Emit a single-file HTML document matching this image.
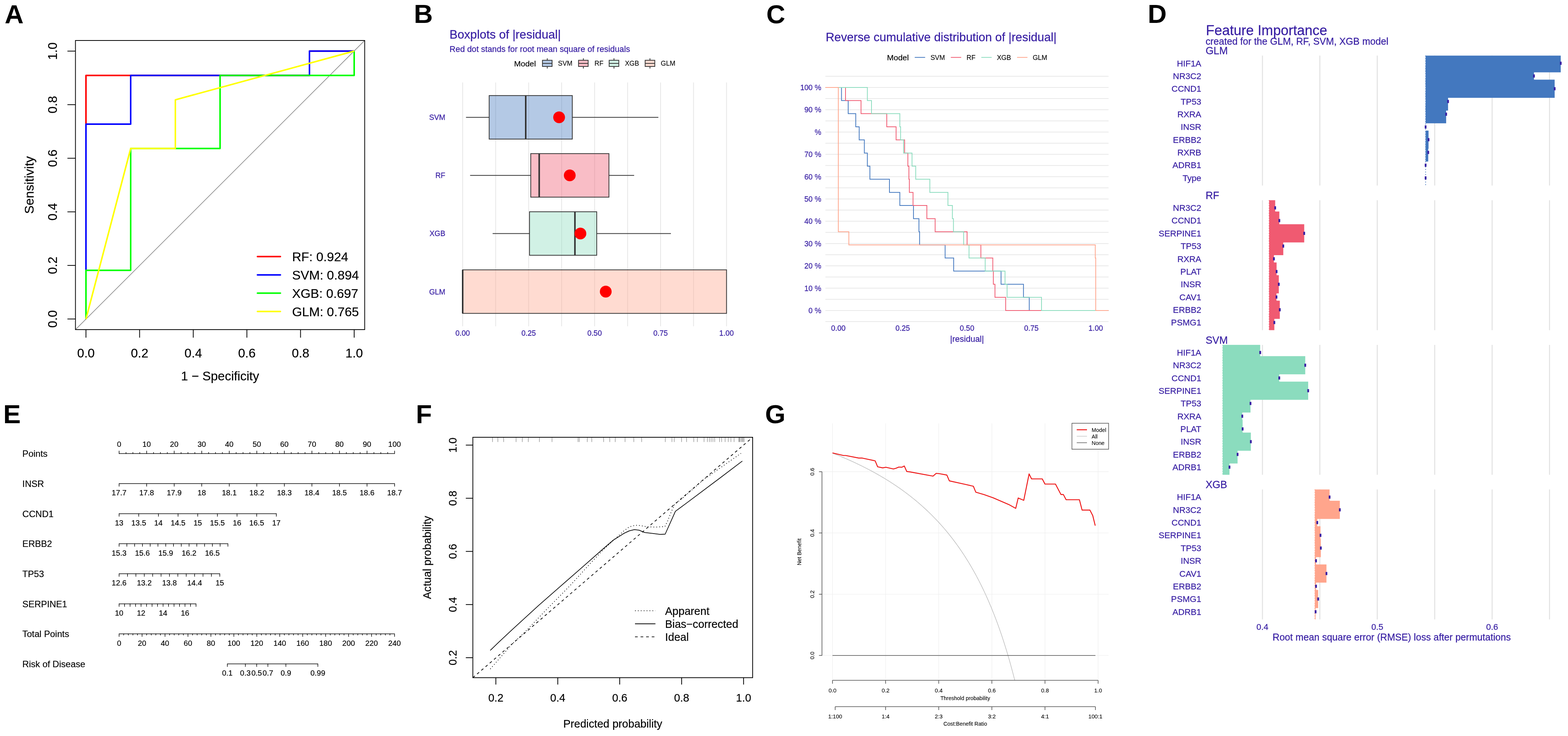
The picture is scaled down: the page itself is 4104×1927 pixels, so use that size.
<!DOCTYPE html>
<html lang="en"><head><meta charset="utf-8"><title>Figure</title>
<style>
html,body{margin:0;padding:0;background:#fff;}
body{width:4104px;height:1927px;overflow:hidden;}
svg{display:block;font-family:'Liberation Sans', sans-serif;}
text{white-space:pre;}
</style></head><body>
<svg xmlns="http://www.w3.org/2000/svg" width="4104" height="1927" viewBox="0 0 4104 1927">
<rect x="0" y="0" width="4104" height="1927" fill="#fff"/>
<g id="letters">
<text x="12.3" y="61" font-size="68.6" font-weight="bold">A</text>
<text x="1083.2" y="60.3" font-size="68.6" font-weight="bold">B</text>
<text x="2005.7" y="61.3" font-size="68.6" font-weight="bold">C</text>
<text x="3004" y="60.3" font-size="68.6" font-weight="bold">D</text>
<text x="8.6" y="1108.2" font-size="68.6" font-weight="bold">E</text>
<text x="1088.4" y="1108.2" font-size="68.6" font-weight="bold">F</text>
<text x="2002.6" y="1108.2" font-size="68.6" font-weight="bold">G</text>
</g>
<g id="panelA">
<line x1="197.5" y1="863" x2="954.5" y2="106" stroke="#909090" stroke-width="1.8"/>
<polyline points="225,835.2 225,197.56 809.98,197.56 809.98,133.8 927,133.8" fill="none" stroke="#ff0000" stroke-width="4" stroke-linejoin="round"/>
<polyline points="225,835.2 225,325.07 342.02,325.07 342.02,197.56 809.98,197.56 809.98,133.8 927,133.8" fill="none" stroke="#0000ff" stroke-width="4" stroke-linejoin="round"/>
<polyline points="225,835.2 225,707.69 342.02,707.69 342.02,388.83 576,388.83 576,197.56 927,197.56 927,133.8" fill="none" stroke="#00ff00" stroke-width="4" stroke-linejoin="round"/>
<polyline points="225,835.2 342.02,388.83 458.98,388.83 458.98,261.31 927,133.8" fill="none" stroke="#ffff00" stroke-width="4" stroke-linejoin="round"/>
<rect x="197.5" y="106" width="757" height="757" fill="none" stroke="#000" stroke-width="2"/>
<line x1="225" y1="863" x2="225" y2="884" stroke="#000" stroke-width="2"/>
<text x="225" y="935.7" font-size="33" text-anchor="middle" stroke="#000" stroke-width="0.22">0.0</text>
<line x1="176.5" y1="835.2" x2="197.5" y2="835.2" stroke="#000" stroke-width="2"/>
<text x="149.3" y="835.2" font-size="33" text-anchor="middle" transform="rotate(-90 149.3 835.2)" stroke="#000" stroke-width="0.22">0.0</text>
<line x1="365.4" y1="863" x2="365.4" y2="884" stroke="#000" stroke-width="2"/>
<text x="365.4" y="935.7" font-size="33" text-anchor="middle" stroke="#000" stroke-width="0.22">0.2</text>
<line x1="176.5" y1="694.92" x2="197.5" y2="694.92" stroke="#000" stroke-width="2"/>
<text x="149.3" y="694.92" font-size="33" text-anchor="middle" transform="rotate(-90 149.3 694.92)" stroke="#000" stroke-width="0.22">0.2</text>
<line x1="505.8" y1="863" x2="505.8" y2="884" stroke="#000" stroke-width="2"/>
<text x="505.8" y="935.7" font-size="33" text-anchor="middle" stroke="#000" stroke-width="0.22">0.4</text>
<line x1="176.5" y1="554.64" x2="197.5" y2="554.64" stroke="#000" stroke-width="2"/>
<text x="149.3" y="554.64" font-size="33" text-anchor="middle" transform="rotate(-90 149.3 554.64)" stroke="#000" stroke-width="0.22">0.4</text>
<line x1="646.2" y1="863" x2="646.2" y2="884" stroke="#000" stroke-width="2"/>
<text x="646.2" y="935.7" font-size="33" text-anchor="middle" stroke="#000" stroke-width="0.22">0.6</text>
<line x1="176.5" y1="414.36" x2="197.5" y2="414.36" stroke="#000" stroke-width="2"/>
<text x="149.3" y="414.36" font-size="33" text-anchor="middle" transform="rotate(-90 149.3 414.36)" stroke="#000" stroke-width="0.22">0.6</text>
<line x1="786.6" y1="863" x2="786.6" y2="884" stroke="#000" stroke-width="2"/>
<text x="786.6" y="935.7" font-size="33" text-anchor="middle" stroke="#000" stroke-width="0.22">0.8</text>
<line x1="176.5" y1="274.08" x2="197.5" y2="274.08" stroke="#000" stroke-width="2"/>
<text x="149.3" y="274.08" font-size="33" text-anchor="middle" transform="rotate(-90 149.3 274.08)" stroke="#000" stroke-width="0.22">0.8</text>
<line x1="927" y1="863" x2="927" y2="884" stroke="#000" stroke-width="2"/>
<text x="927" y="935.7" font-size="33" text-anchor="middle" stroke="#000" stroke-width="0.22">1.0</text>
<line x1="176.5" y1="133.8" x2="197.5" y2="133.8" stroke="#000" stroke-width="2"/>
<text x="149.3" y="133.8" font-size="33" text-anchor="middle" transform="rotate(-90 149.3 133.8)" stroke="#000" stroke-width="0.22">1.0</text>
<text x="576" y="996.3" font-size="33" text-anchor="middle" stroke="#000" stroke-width="0.22">1 − Specificity</text>
<text x="87.5" y="484.5" font-size="33.6" text-anchor="middle" transform="rotate(-90 87.5 484.5)" stroke="#000" stroke-width="0.22">Sensitivity</text>
<line x1="673.8" y1="671.8" x2="733.9" y2="671.8" stroke="#ff0000" stroke-width="4" stroke-linecap="round"/>
<text x="764.4" y="684" font-size="33.5" stroke="#000" stroke-width="0.22">RF: 0.924</text>
<line x1="673.8" y1="719.7" x2="733.9" y2="719.7" stroke="#0000ff" stroke-width="4" stroke-linecap="round"/>
<text x="764.4" y="731.9" font-size="33.5" stroke="#000" stroke-width="0.22">SVM: 0.894</text>
<line x1="673.8" y1="767.6" x2="733.9" y2="767.6" stroke="#00ff00" stroke-width="4" stroke-linecap="round"/>
<text x="764.4" y="779.8" font-size="33.5" stroke="#000" stroke-width="0.22">XGB: 0.697</text>
<line x1="673.8" y1="815.5" x2="733.9" y2="815.5" stroke="#ffff00" stroke-width="4" stroke-linecap="round"/>
<text x="764.4" y="827.7" font-size="33.5" stroke="#000" stroke-width="0.22">GLM: 0.765</text>
</g>
<g id="panelB">
<text x="1176.6" y="101.4" font-size="31.5" fill="#371ea3" stroke="#371ea3" stroke-width="0.32">Boxplots of |residual|</text>
<text x="1176.6" y="135.7" font-size="21.8" fill="#371ea3" stroke="#371ea3" stroke-width="0.32">Red dot stands for root mean square of residuals</text>
<text x="1345.5" y="173.7" font-size="21" stroke="#000" stroke-width="0.22">Model</text>
<line x1="1432.4" y1="152.6" x2="1432.4" y2="179.4" stroke="#333" stroke-width="2"/>
<rect x="1419.8" y="157.8" width="25.2" height="16.2" fill="#b4c9e5" stroke="#333" stroke-width="2"/>
<line x1="1419.8" y1="166" x2="1445" y2="166" stroke="#333" stroke-width="2"/>
<text x="1460.5" y="172.4" font-size="17.5" stroke="#000" stroke-width="0.12">SVM</text>
<line x1="1526.8" y1="152.6" x2="1526.8" y2="179.4" stroke="#333" stroke-width="2"/>
<rect x="1514.2" y="157.8" width="25.2" height="16.2" fill="#f9bdc6" stroke="#333" stroke-width="2"/>
<line x1="1514.2" y1="166" x2="1539.4" y2="166" stroke="#333" stroke-width="2"/>
<text x="1556" y="172.4" font-size="17.5" stroke="#000" stroke-width="0.12">RF</text>
<line x1="1607" y1="152.6" x2="1607" y2="179.4" stroke="#333" stroke-width="2"/>
<rect x="1594.4" y="157.8" width="25.2" height="16.2" fill="#d1f1e5" stroke="#333" stroke-width="2"/>
<line x1="1594.4" y1="166" x2="1619.6" y2="166" stroke="#333" stroke-width="2"/>
<text x="1635.7" y="172.4" font-size="17.5" stroke="#000" stroke-width="0.12">XGB</text>
<line x1="1701.2" y1="152.6" x2="1701.2" y2="179.4" stroke="#333" stroke-width="2"/>
<rect x="1688.6" y="157.8" width="25.2" height="16.2" fill="#ffdbd1" stroke="#333" stroke-width="2"/>
<line x1="1688.6" y1="166" x2="1713.8" y2="166" stroke="#333" stroke-width="2"/>
<text x="1729.6" y="172.4" font-size="17.5" stroke="#000" stroke-width="0.12">GLM</text>
<line x1="1211" y1="216" x2="1211" y2="854.3" stroke="#e6e6e6" stroke-width="2"/>
<line x1="1297.33" y1="216" x2="1297.33" y2="854.3" stroke="#e6e6e6" stroke-width="2"/>
<line x1="1383.65" y1="216" x2="1383.65" y2="854.3" stroke="#e6e6e6" stroke-width="2"/>
<line x1="1469.97" y1="216" x2="1469.97" y2="854.3" stroke="#e6e6e6" stroke-width="2"/>
<line x1="1556.3" y1="216" x2="1556.3" y2="854.3" stroke="#e6e6e6" stroke-width="2"/>
<line x1="1642.62" y1="216" x2="1642.62" y2="854.3" stroke="#e6e6e6" stroke-width="2"/>
<line x1="1728.95" y1="216" x2="1728.95" y2="854.3" stroke="#e6e6e6" stroke-width="2"/>
<line x1="1815.28" y1="216" x2="1815.28" y2="854.3" stroke="#e6e6e6" stroke-width="2"/>
<line x1="1901.6" y1="216" x2="1901.6" y2="854.3" stroke="#e6e6e6" stroke-width="2"/>
<line x1="1219.7" y1="307.2" x2="1280.34" y2="307.2" stroke="#333" stroke-width="2"/>
<line x1="1497.88" y1="307.2" x2="1723.15" y2="307.2" stroke="#333" stroke-width="2"/>
<rect x="1280.34" y="250.2" width="217.54" height="114" fill="#4378bf" fill-opacity="0.4" stroke="#333" stroke-width="2"/>
<line x1="1375.98" y1="250.2" x2="1375.98" y2="364.2" stroke="#333" stroke-width="4"/>
<circle cx="1463.35" cy="307.2" r="15.4" fill="#ff0000"/>
<text x="1165.4" y="314.2" font-size="19.5" text-anchor="end" fill="#371ea3" stroke="#371ea3" stroke-width="0.32">SVM</text>
<line x1="1230.41" y1="459.2" x2="1389.17" y2="459.2" stroke="#333" stroke-width="2"/>
<line x1="1593.8" y1="459.2" x2="1659.75" y2="459.2" stroke="#333" stroke-width="2"/>
<rect x="1389.17" y="402.2" width="204.62" height="114" fill="#f05a71" fill-opacity="0.4" stroke="#333" stroke-width="2"/>
<line x1="1411.27" y1="402.2" x2="1411.27" y2="516.2" stroke="#333" stroke-width="4"/>
<circle cx="1491.25" cy="459.2" r="15.4" fill="#ff0000"/>
<text x="1165.4" y="466.2" font-size="19.5" text-anchor="end" fill="#371ea3" stroke="#371ea3" stroke-width="0.32">RF</text>
<line x1="1289.38" y1="611.4" x2="1385.93" y2="611.4" stroke="#333" stroke-width="2"/>
<line x1="1561.82" y1="611.4" x2="1756.02" y2="611.4" stroke="#333" stroke-width="2"/>
<rect x="1385.93" y="554.4" width="175.9" height="114" fill="#8bdcbe" fill-opacity="0.4" stroke="#333" stroke-width="2"/>
<line x1="1504.78" y1="554.4" x2="1504.78" y2="668.4" stroke="#333" stroke-width="4"/>
<circle cx="1519.15" cy="611.4" r="15.4" fill="#ff0000"/>
<text x="1165.4" y="618.4" font-size="19.5" text-anchor="end" fill="#371ea3" stroke="#371ea3" stroke-width="0.32">XGB</text>
<rect x="1211" y="706.5" width="690.6" height="114" fill="#ffa58c" fill-opacity="0.4" stroke="#333" stroke-width="2"/>
<line x1="1211" y1="706.5" x2="1211" y2="820.5" stroke="#333" stroke-width="4"/>
<circle cx="1585.44" cy="763.5" r="15.4" fill="#ff0000"/>
<text x="1165.4" y="770.5" font-size="19.5" text-anchor="end" fill="#371ea3" stroke="#371ea3" stroke-width="0.32">GLM</text>
<text x="1211" y="879.2" font-size="19.5" text-anchor="middle" fill="#371ea3" stroke="#371ea3" stroke-width="0.32">0.00</text>
<text x="1383.65" y="879.2" font-size="19.5" text-anchor="middle" fill="#371ea3" stroke="#371ea3" stroke-width="0.32">0.25</text>
<text x="1556.3" y="879.2" font-size="19.5" text-anchor="middle" fill="#371ea3" stroke="#371ea3" stroke-width="0.32">0.50</text>
<text x="1728.95" y="879.2" font-size="19.5" text-anchor="middle" fill="#371ea3" stroke="#371ea3" stroke-width="0.32">0.75</text>
<text x="1901.6" y="879.2" font-size="19.5" text-anchor="middle" fill="#371ea3" stroke="#371ea3" stroke-width="0.32">1.00</text>
</g>
<g id="panelC">
<text x="2161.2" y="107.7" font-size="31.3" fill="#371ea3" stroke="#371ea3" stroke-width="0.32">Reverse cumulative distribution of |residual|</text>
<text x="2321.5" y="158" font-size="21" stroke="#000" stroke-width="0.22">Model</text>
<line x1="2394.2" y1="150.3" x2="2421.4" y2="150.3" stroke="#4378bf" stroke-width="2"/>
<text x="2435.4" y="156.7" font-size="17.5" stroke="#000" stroke-width="0.12">SVM</text>
<line x1="2488.6" y1="150.3" x2="2515.8" y2="150.3" stroke="#f05a71" stroke-width="2"/>
<text x="2529.8" y="156.7" font-size="17.5" stroke="#000" stroke-width="0.12">RF</text>
<line x1="2568.4" y1="150.3" x2="2595.6" y2="150.3" stroke="#8bdcbe" stroke-width="2"/>
<text x="2609.2" y="156.7" font-size="17.5" stroke="#000" stroke-width="0.12">XGB</text>
<line x1="2662" y1="150.3" x2="2689.2" y2="150.3" stroke="#ffa58c" stroke-width="2"/>
<text x="2703" y="156.7" font-size="17.5" stroke="#000" stroke-width="0.12">GLM</text>
<line x1="2160.3" y1="842.1" x2="2901.5" y2="842.1" stroke="#e8e8e8" stroke-width="2"/>
<line x1="2160.3" y1="812.9" x2="2901.5" y2="812.9" stroke="#e8e8e8" stroke-width="2"/>
<line x1="2160.3" y1="783.7" x2="2901.5" y2="783.7" stroke="#e8e8e8" stroke-width="2"/>
<line x1="2160.3" y1="754.5" x2="2901.5" y2="754.5" stroke="#e8e8e8" stroke-width="2"/>
<line x1="2160.3" y1="725.3" x2="2901.5" y2="725.3" stroke="#e8e8e8" stroke-width="2"/>
<line x1="2160.3" y1="696.1" x2="2901.5" y2="696.1" stroke="#e8e8e8" stroke-width="2"/>
<line x1="2160.3" y1="666.9" x2="2901.5" y2="666.9" stroke="#e8e8e8" stroke-width="2"/>
<line x1="2160.3" y1="637.7" x2="2901.5" y2="637.7" stroke="#e8e8e8" stroke-width="2"/>
<line x1="2160.3" y1="608.5" x2="2901.5" y2="608.5" stroke="#e8e8e8" stroke-width="2"/>
<line x1="2160.3" y1="579.3" x2="2901.5" y2="579.3" stroke="#e8e8e8" stroke-width="2"/>
<line x1="2160.3" y1="550.1" x2="2901.5" y2="550.1" stroke="#e8e8e8" stroke-width="2"/>
<line x1="2160.3" y1="520.9" x2="2901.5" y2="520.9" stroke="#e8e8e8" stroke-width="2"/>
<line x1="2160.3" y1="491.7" x2="2901.5" y2="491.7" stroke="#e8e8e8" stroke-width="2"/>
<line x1="2160.3" y1="462.5" x2="2901.5" y2="462.5" stroke="#e8e8e8" stroke-width="2"/>
<line x1="2160.3" y1="433.3" x2="2901.5" y2="433.3" stroke="#e8e8e8" stroke-width="2"/>
<line x1="2160.3" y1="404.1" x2="2901.5" y2="404.1" stroke="#e8e8e8" stroke-width="2"/>
<line x1="2160.3" y1="374.9" x2="2901.5" y2="374.9" stroke="#e8e8e8" stroke-width="2"/>
<line x1="2160.3" y1="345.7" x2="2901.5" y2="345.7" stroke="#e8e8e8" stroke-width="2"/>
<line x1="2160.3" y1="316.5" x2="2901.5" y2="316.5" stroke="#e8e8e8" stroke-width="2"/>
<line x1="2160.3" y1="287.3" x2="2901.5" y2="287.3" stroke="#e8e8e8" stroke-width="2"/>
<line x1="2160.3" y1="258.1" x2="2901.5" y2="258.1" stroke="#e8e8e8" stroke-width="2"/>
<line x1="2160.3" y1="228.9" x2="2901.5" y2="228.9" stroke="#e8e8e8" stroke-width="2"/>
<line x1="2160.3" y1="199.7" x2="2901.5" y2="199.7" stroke="#e8e8e8" stroke-width="2"/>
<text x="2149.7" y="820" font-size="19.5" text-anchor="end" fill="#371ea3" stroke="#371ea3" stroke-width="0.32">0 %</text>
<text x="2149.7" y="761.6" font-size="19.5" text-anchor="end" fill="#371ea3" stroke="#371ea3" stroke-width="0.32">10 %</text>
<text x="2149.7" y="703.2" font-size="19.5" text-anchor="end" fill="#371ea3" stroke="#371ea3" stroke-width="0.32">20 %</text>
<text x="2149.7" y="644.8" font-size="19.5" text-anchor="end" fill="#371ea3" stroke="#371ea3" stroke-width="0.32">30 %</text>
<text x="2149.7" y="586.4" font-size="19.5" text-anchor="end" fill="#371ea3" stroke="#371ea3" stroke-width="0.32">40 %</text>
<text x="2149.7" y="528" font-size="19.5" text-anchor="end" fill="#371ea3" stroke="#371ea3" stroke-width="0.32">50 %</text>
<text x="2149.7" y="469.6" font-size="19.5" text-anchor="end" fill="#371ea3" stroke="#371ea3" stroke-width="0.32">60 %</text>
<text x="2149.7" y="411.2" font-size="19.5" text-anchor="end" fill="#371ea3" stroke="#371ea3" stroke-width="0.32">70 %</text>
<text x="2149.7" y="352.8" font-size="19.5" text-anchor="end" fill="#371ea3" stroke="#371ea3" stroke-width="0.32">%</text>
<text x="2149.7" y="294.4" font-size="19.5" text-anchor="end" fill="#371ea3" stroke="#371ea3" stroke-width="0.32">90 %</text>
<text x="2149.7" y="236" font-size="19.5" text-anchor="end" fill="#371ea3" stroke="#371ea3" stroke-width="0.32">100 %</text>
<text x="2194.2" y="866.3" font-size="19.5" text-anchor="middle" fill="#371ea3" stroke="#371ea3" stroke-width="0.32">0.00</text>
<text x="2362.62" y="866.3" font-size="19.5" text-anchor="middle" fill="#371ea3" stroke="#371ea3" stroke-width="0.32">0.25</text>
<text x="2531.05" y="866.3" font-size="19.5" text-anchor="middle" fill="#371ea3" stroke="#371ea3" stroke-width="0.32">0.50</text>
<text x="2699.47" y="866.3" font-size="19.5" text-anchor="middle" fill="#371ea3" stroke="#371ea3" stroke-width="0.32">0.75</text>
<text x="2867.9" y="866.3" font-size="19.5" text-anchor="middle" fill="#371ea3" stroke="#371ea3" stroke-width="0.32">1.00</text>
<text x="2531" y="895" font-size="22" text-anchor="middle" fill="#371ea3" stroke="#371ea3" stroke-width="0.32">|residual|</text>
<path d="M2160.3,228.9H2202.5V263.25H2220V297.61H2239.8V331.96H2248.8V366.31H2262.3V400.66H2270.2V435.02H2276.8V469.37H2328V503.72H2355.2V538.08H2390.9V572.43H2405.2V606.78H2406.9V641.14H2473.7V675.49H2496.1V709.84H2620.1V744.19H2678.8V778.55H2693.9V812.9H2901.5" fill="none" stroke="#4378bf" stroke-width="2" stroke-linejoin="miter"/>
<path d="M2160.3,228.9H2213V263.25H2253.6V297.61H2321V331.96H2345.4V366.31H2367.7V400.66H2376.2V435.02H2378.9V469.37H2380.1V503.72H2389.7V538.08H2425.9V572.43H2447.6V606.78H2531.2V641.14H2567.3V675.49H2598.5V709.84H2599.9V744.19H2604.2V778.55H2632.2V812.9H2901.5" fill="none" stroke="#f05a71" stroke-width="2" stroke-linejoin="miter"/>
<path d="M2160.3,228.9H2270.2V263.25H2281V297.61H2355.2V331.96H2357.2V366.31H2364.9V400.66H2387.1V435.02H2396.7V469.37H2433.7V503.72H2481.1V538.08H2492.7V572.43H2495.5V606.78H2522.2V641.14H2536.3V675.49H2578.6V709.84H2630.5V744.19H2635.9V778.55H2726V812.9H2901.5" fill="none" stroke="#8bdcbe" stroke-width="2" stroke-linejoin="miter"/>
<path d="M2160.3,228.9H2194.2V606.78H2221.7V641.14H2866.7V675.49H2867.9V812.9H2901.5" fill="none" stroke="#ffa58c" stroke-width="2" stroke-linejoin="miter"/>
</g>
<g id="panelD">
<text x="3156.2" y="92" font-size="36.4" fill="#371ea3" stroke="#371ea3" stroke-width="0.32">Feature Importance</text>
<text x="3155.4" y="117" font-size="25.1" fill="#371ea3" stroke="#371ea3" stroke-width="0.32">created for the GLM, RF, SVM, XGB model</text>
<text x="3155.4" y="142.2" font-size="26.8" fill="#371ea3" stroke="#371ea3" stroke-width="0.32">GLM</text>
<line x1="3304.2" y1="145.6" x2="3304.2" y2="485.8" stroke="#e2e2e2" stroke-width="2.6"/>
<line x1="3454.5" y1="145.6" x2="3454.5" y2="485.8" stroke="#e2e2e2" stroke-width="2.6"/>
<line x1="3604.8" y1="145.6" x2="3604.8" y2="485.8" stroke="#e2e2e2" stroke-width="2.6"/>
<line x1="3755.1" y1="145.6" x2="3755.1" y2="485.8" stroke="#e2e2e2" stroke-width="2.6"/>
<line x1="3905.4" y1="145.6" x2="3905.4" y2="485.8" stroke="#e2e2e2" stroke-width="2.6"/>
<line x1="4055.7" y1="145.6" x2="4055.7" y2="485.8" stroke="#e2e2e2" stroke-width="2.6"/>
<rect x="3731.3" y="145.6" width="353.7" height="43.81" fill="#4378bf"/>
<rect x="3731.3" y="175.16" width="283.6" height="47.6" fill="#4378bf"/>
<rect x="3731.3" y="208.52" width="337.8" height="47.6" fill="#4378bf"/>
<rect x="3731.3" y="241.87" width="58.8" height="47.6" fill="#4378bf"/>
<rect x="3731.3" y="275.22" width="53.8" height="47.6" fill="#4378bf"/>
<rect x="3731.3" y="341.93" width="7.7" height="47.6" fill="#4378bf"/>
<rect x="3731.3" y="375.28" width="6.9" height="47.6" fill="#4378bf"/>
<line x1="3731.3" y1="145.6" x2="3731.3" y2="485.8" stroke="#4378bf" stroke-width="2" stroke-dasharray="2.2 4.4"/>
<rect x="4082.7" y="161.51" width="4.6" height="8.2" fill="#371ea3"/>
<text x="3144.2" y="173.51" font-size="22.6" text-anchor="end" fill="#371ea3" stroke="#371ea3" stroke-width="0.32">HIF1A</text>
<rect x="4012.6" y="194.86" width="4.6" height="8.2" fill="#371ea3"/>
<text x="3144.2" y="206.86" font-size="22.6" text-anchor="end" fill="#371ea3" stroke="#371ea3" stroke-width="0.32">NR3C2</text>
<rect x="4066.8" y="228.22" width="4.6" height="8.2" fill="#371ea3"/>
<text x="3144.2" y="240.22" font-size="22.6" text-anchor="end" fill="#371ea3" stroke="#371ea3" stroke-width="0.32">CCND1</text>
<rect x="3787.8" y="261.57" width="4.6" height="8.2" fill="#371ea3"/>
<text x="3144.2" y="273.57" font-size="22.6" text-anchor="end" fill="#371ea3" stroke="#371ea3" stroke-width="0.32">TP53</text>
<rect x="3782.8" y="294.92" width="4.6" height="8.2" fill="#371ea3"/>
<text x="3144.2" y="306.92" font-size="22.6" text-anchor="end" fill="#371ea3" stroke="#371ea3" stroke-width="0.32">RXRA</text>
<rect x="3729" y="328.28" width="4.6" height="8.2" fill="#371ea3"/>
<text x="3144.2" y="340.28" font-size="22.6" text-anchor="end" fill="#371ea3" stroke="#371ea3" stroke-width="0.32">INSR</text>
<rect x="3736.7" y="361.63" width="4.6" height="8.2" fill="#371ea3"/>
<text x="3144.2" y="373.63" font-size="22.6" text-anchor="end" fill="#371ea3" stroke="#371ea3" stroke-width="0.32">ERBB2</text>
<rect x="3735.9" y="394.98" width="4.6" height="8.2" fill="#371ea3"/>
<text x="3144.2" y="406.98" font-size="22.6" text-anchor="end" fill="#371ea3" stroke="#371ea3" stroke-width="0.32">RXRB</text>
<rect x="3729" y="428.34" width="4.6" height="8.2" fill="#371ea3"/>
<text x="3144.2" y="440.34" font-size="22.6" text-anchor="end" fill="#371ea3" stroke="#371ea3" stroke-width="0.32">ADRB1</text>
<rect x="3729" y="461.69" width="4.6" height="8.2" fill="#371ea3"/>
<text x="3144.2" y="473.69" font-size="22.6" text-anchor="end" fill="#371ea3" stroke="#371ea3" stroke-width="0.32">Type</text>
<text x="3155.4" y="520.8" font-size="26.8" fill="#371ea3" stroke="#371ea3" stroke-width="0.32">RF</text>
<line x1="3304.2" y1="524.2" x2="3304.2" y2="864.4" stroke="#e2e2e2" stroke-width="2.6"/>
<line x1="3454.5" y1="524.2" x2="3454.5" y2="864.4" stroke="#e2e2e2" stroke-width="2.6"/>
<line x1="3604.8" y1="524.2" x2="3604.8" y2="864.4" stroke="#e2e2e2" stroke-width="2.6"/>
<line x1="3755.1" y1="524.2" x2="3755.1" y2="864.4" stroke="#e2e2e2" stroke-width="2.6"/>
<line x1="3905.4" y1="524.2" x2="3905.4" y2="864.4" stroke="#e2e2e2" stroke-width="2.6"/>
<line x1="4055.7" y1="524.2" x2="4055.7" y2="864.4" stroke="#e2e2e2" stroke-width="2.6"/>
<rect x="3321.8" y="524.2" width="15.8" height="43.81" fill="#f05a71"/>
<rect x="3321.8" y="553.76" width="26.7" height="47.6" fill="#f05a71"/>
<rect x="3321.8" y="587.12" width="91.8" height="47.6" fill="#f05a71"/>
<rect x="3321.8" y="620.47" width="37" height="47.6" fill="#f05a71"/>
<rect x="3321.8" y="653.82" width="12.5" height="47.6" fill="#f05a71"/>
<rect x="3321.8" y="687.18" width="19.5" height="47.6" fill="#f05a71"/>
<rect x="3321.8" y="720.53" width="25.3" height="47.6" fill="#f05a71"/>
<rect x="3321.8" y="753.88" width="19.2" height="47.6" fill="#f05a71"/>
<rect x="3321.8" y="787.24" width="27.9" height="47.6" fill="#f05a71"/>
<rect x="3321.8" y="820.59" width="13.6" height="43.81" fill="#f05a71"/>
<line x1="3321.8" y1="524.2" x2="3321.8" y2="864.4" stroke="#f05a71" stroke-width="2" stroke-dasharray="2.2 4.4"/>
<rect x="3335.3" y="540.11" width="4.6" height="8.2" fill="#371ea3"/>
<text x="3144.2" y="552.11" font-size="22.6" text-anchor="end" fill="#371ea3" stroke="#371ea3" stroke-width="0.32">NR3C2</text>
<rect x="3346.2" y="573.46" width="4.6" height="8.2" fill="#371ea3"/>
<text x="3144.2" y="585.46" font-size="22.6" text-anchor="end" fill="#371ea3" stroke="#371ea3" stroke-width="0.32">CCND1</text>
<rect x="3411.3" y="606.82" width="4.6" height="8.2" fill="#371ea3"/>
<text x="3144.2" y="618.82" font-size="22.6" text-anchor="end" fill="#371ea3" stroke="#371ea3" stroke-width="0.32">SERPINE1</text>
<rect x="3356.5" y="640.17" width="4.6" height="8.2" fill="#371ea3"/>
<text x="3144.2" y="652.17" font-size="22.6" text-anchor="end" fill="#371ea3" stroke="#371ea3" stroke-width="0.32">TP53</text>
<rect x="3332" y="673.52" width="4.6" height="8.2" fill="#371ea3"/>
<text x="3144.2" y="685.52" font-size="22.6" text-anchor="end" fill="#371ea3" stroke="#371ea3" stroke-width="0.32">RXRA</text>
<rect x="3339" y="706.88" width="4.6" height="8.2" fill="#371ea3"/>
<text x="3144.2" y="718.88" font-size="22.6" text-anchor="end" fill="#371ea3" stroke="#371ea3" stroke-width="0.32">PLAT</text>
<rect x="3344.8" y="740.23" width="4.6" height="8.2" fill="#371ea3"/>
<text x="3144.2" y="752.23" font-size="22.6" text-anchor="end" fill="#371ea3" stroke="#371ea3" stroke-width="0.32">INSR</text>
<rect x="3338.7" y="773.58" width="4.6" height="8.2" fill="#371ea3"/>
<text x="3144.2" y="785.58" font-size="22.6" text-anchor="end" fill="#371ea3" stroke="#371ea3" stroke-width="0.32">CAV1</text>
<rect x="3347.4" y="806.94" width="4.6" height="8.2" fill="#371ea3"/>
<text x="3144.2" y="818.94" font-size="22.6" text-anchor="end" fill="#371ea3" stroke="#371ea3" stroke-width="0.32">ERBB2</text>
<rect x="3333.1" y="840.29" width="4.6" height="8.2" fill="#371ea3"/>
<text x="3144.2" y="852.29" font-size="22.6" text-anchor="end" fill="#371ea3" stroke="#371ea3" stroke-width="0.32">PSMG1</text>
<text x="3155.4" y="899.5" font-size="26.8" fill="#371ea3" stroke="#371ea3" stroke-width="0.32">SVM</text>
<line x1="3304.2" y1="902.9" x2="3304.2" y2="1243.1" stroke="#e2e2e2" stroke-width="2.6"/>
<line x1="3454.5" y1="902.9" x2="3454.5" y2="1243.1" stroke="#e2e2e2" stroke-width="2.6"/>
<line x1="3604.8" y1="902.9" x2="3604.8" y2="1243.1" stroke="#e2e2e2" stroke-width="2.6"/>
<line x1="3755.1" y1="902.9" x2="3755.1" y2="1243.1" stroke="#e2e2e2" stroke-width="2.6"/>
<line x1="3905.4" y1="902.9" x2="3905.4" y2="1243.1" stroke="#e2e2e2" stroke-width="2.6"/>
<line x1="4055.7" y1="902.9" x2="4055.7" y2="1243.1" stroke="#e2e2e2" stroke-width="2.6"/>
<rect x="3200.2" y="902.9" width="98.2" height="43.81" fill="#8bdcbe"/>
<rect x="3200.2" y="932.46" width="216.1" height="47.6" fill="#8bdcbe"/>
<rect x="3200.2" y="965.82" width="148.1" height="47.6" fill="#8bdcbe"/>
<rect x="3200.2" y="999.17" width="223.8" height="47.6" fill="#8bdcbe"/>
<rect x="3200.2" y="1032.52" width="72.8" height="47.6" fill="#8bdcbe"/>
<rect x="3200.2" y="1065.88" width="51.3" height="47.6" fill="#8bdcbe"/>
<rect x="3200.2" y="1099.23" width="52.2" height="47.6" fill="#8bdcbe"/>
<rect x="3200.2" y="1132.58" width="73.7" height="47.6" fill="#8bdcbe"/>
<rect x="3200.2" y="1165.94" width="39" height="47.6" fill="#8bdcbe"/>
<rect x="3200.2" y="1199.29" width="17.8" height="43.81" fill="#8bdcbe"/>
<line x1="3200.2" y1="902.9" x2="3200.2" y2="1243.1" stroke="#8bdcbe" stroke-width="2" stroke-dasharray="2.2 4.4"/>
<rect x="3296.1" y="918.81" width="4.6" height="8.2" fill="#371ea3"/>
<text x="3144.2" y="930.81" font-size="22.6" text-anchor="end" fill="#371ea3" stroke="#371ea3" stroke-width="0.32">HIF1A</text>
<rect x="3414" y="952.16" width="4.6" height="8.2" fill="#371ea3"/>
<text x="3144.2" y="964.16" font-size="22.6" text-anchor="end" fill="#371ea3" stroke="#371ea3" stroke-width="0.32">NR3C2</text>
<rect x="3346" y="985.52" width="4.6" height="8.2" fill="#371ea3"/>
<text x="3144.2" y="997.52" font-size="22.6" text-anchor="end" fill="#371ea3" stroke="#371ea3" stroke-width="0.32">CCND1</text>
<rect x="3421.7" y="1018.87" width="4.6" height="8.2" fill="#371ea3"/>
<text x="3144.2" y="1030.87" font-size="22.6" text-anchor="end" fill="#371ea3" stroke="#371ea3" stroke-width="0.32">SERPINE1</text>
<rect x="3270.7" y="1052.22" width="4.6" height="8.2" fill="#371ea3"/>
<text x="3144.2" y="1064.22" font-size="22.6" text-anchor="end" fill="#371ea3" stroke="#371ea3" stroke-width="0.32">TP53</text>
<rect x="3249.2" y="1085.58" width="4.6" height="8.2" fill="#371ea3"/>
<text x="3144.2" y="1097.58" font-size="22.6" text-anchor="end" fill="#371ea3" stroke="#371ea3" stroke-width="0.32">RXRA</text>
<rect x="3250.1" y="1118.93" width="4.6" height="8.2" fill="#371ea3"/>
<text x="3144.2" y="1130.93" font-size="22.6" text-anchor="end" fill="#371ea3" stroke="#371ea3" stroke-width="0.32">PLAT</text>
<rect x="3271.6" y="1152.28" width="4.6" height="8.2" fill="#371ea3"/>
<text x="3144.2" y="1164.28" font-size="22.6" text-anchor="end" fill="#371ea3" stroke="#371ea3" stroke-width="0.32">INSR</text>
<rect x="3236.9" y="1185.64" width="4.6" height="8.2" fill="#371ea3"/>
<text x="3144.2" y="1197.64" font-size="22.6" text-anchor="end" fill="#371ea3" stroke="#371ea3" stroke-width="0.32">ERBB2</text>
<rect x="3215.7" y="1218.99" width="4.6" height="8.2" fill="#371ea3"/>
<text x="3144.2" y="1230.99" font-size="22.6" text-anchor="end" fill="#371ea3" stroke="#371ea3" stroke-width="0.32">ADRB1</text>
<text x="3155.4" y="1278.1" font-size="26.8" fill="#371ea3" stroke="#371ea3" stroke-width="0.32">XGB</text>
<line x1="3304.2" y1="1281.5" x2="3304.2" y2="1621.7" stroke="#e2e2e2" stroke-width="2.6"/>
<line x1="3454.5" y1="1281.5" x2="3454.5" y2="1621.7" stroke="#e2e2e2" stroke-width="2.6"/>
<line x1="3604.8" y1="1281.5" x2="3604.8" y2="1621.7" stroke="#e2e2e2" stroke-width="2.6"/>
<line x1="3755.1" y1="1281.5" x2="3755.1" y2="1621.7" stroke="#e2e2e2" stroke-width="2.6"/>
<line x1="3905.4" y1="1281.5" x2="3905.4" y2="1621.7" stroke="#e2e2e2" stroke-width="2.6"/>
<line x1="4055.7" y1="1281.5" x2="4055.7" y2="1621.7" stroke="#e2e2e2" stroke-width="2.6"/>
<rect x="3441.5" y="1281.5" width="38.5" height="43.81" fill="#ffa58c"/>
<rect x="3441.5" y="1311.06" width="65.3" height="47.6" fill="#ffa58c"/>
<rect x="3441.5" y="1344.42" width="6.3" height="47.6" fill="#ffa58c"/>
<rect x="3441.5" y="1377.77" width="14.7" height="47.6" fill="#ffa58c"/>
<rect x="3441.5" y="1411.12" width="15.6" height="47.6" fill="#ffa58c"/>
<rect x="3441.5" y="1444.48" width="3" height="47.6" fill="#ffa58c"/>
<rect x="3441.5" y="1477.83" width="30.3" height="47.6" fill="#ffa58c"/>
<rect x="3441.5" y="1511.18" width="3" height="47.6" fill="#ffa58c"/>
<rect x="3441.5" y="1544.54" width="8.6" height="47.6" fill="#ffa58c"/>
<rect x="3441.5" y="1577.89" width="1.9" height="43.81" fill="#ffa58c"/>
<line x1="3441.5" y1="1281.5" x2="3441.5" y2="1621.7" stroke="#ffa58c" stroke-width="2" stroke-dasharray="2.2 4.4"/>
<rect x="3477.7" y="1297.41" width="4.6" height="8.2" fill="#371ea3"/>
<text x="3144.2" y="1309.41" font-size="22.6" text-anchor="end" fill="#371ea3" stroke="#371ea3" stroke-width="0.32">HIF1A</text>
<rect x="3504.5" y="1330.76" width="4.6" height="8.2" fill="#371ea3"/>
<text x="3144.2" y="1342.76" font-size="22.6" text-anchor="end" fill="#371ea3" stroke="#371ea3" stroke-width="0.32">NR3C2</text>
<rect x="3445.5" y="1364.12" width="4.6" height="8.2" fill="#371ea3"/>
<text x="3144.2" y="1376.12" font-size="22.6" text-anchor="end" fill="#371ea3" stroke="#371ea3" stroke-width="0.32">CCND1</text>
<rect x="3453.9" y="1397.47" width="4.6" height="8.2" fill="#371ea3"/>
<text x="3144.2" y="1409.47" font-size="22.6" text-anchor="end" fill="#371ea3" stroke="#371ea3" stroke-width="0.32">SERPINE1</text>
<rect x="3454.8" y="1430.82" width="4.6" height="8.2" fill="#371ea3"/>
<text x="3144.2" y="1442.82" font-size="22.6" text-anchor="end" fill="#371ea3" stroke="#371ea3" stroke-width="0.32">TP53</text>
<rect x="3442.2" y="1464.18" width="4.6" height="8.2" fill="#371ea3"/>
<text x="3144.2" y="1476.18" font-size="22.6" text-anchor="end" fill="#371ea3" stroke="#371ea3" stroke-width="0.32">INSR</text>
<rect x="3469.5" y="1497.53" width="4.6" height="8.2" fill="#371ea3"/>
<text x="3144.2" y="1509.53" font-size="22.6" text-anchor="end" fill="#371ea3" stroke="#371ea3" stroke-width="0.32">CAV1</text>
<rect x="3442.2" y="1530.88" width="4.6" height="8.2" fill="#371ea3"/>
<text x="3144.2" y="1542.88" font-size="22.6" text-anchor="end" fill="#371ea3" stroke="#371ea3" stroke-width="0.32">ERBB2</text>
<rect x="3447.8" y="1564.24" width="4.6" height="8.2" fill="#371ea3"/>
<text x="3144.2" y="1576.24" font-size="22.6" text-anchor="end" fill="#371ea3" stroke="#371ea3" stroke-width="0.32">PSMG1</text>
<rect x="3441.1" y="1597.59" width="4.6" height="8.2" fill="#371ea3"/>
<text x="3144.2" y="1609.59" font-size="22.6" text-anchor="end" fill="#371ea3" stroke="#371ea3" stroke-width="0.32">ADRB1</text>
<text x="3304.2" y="1649.4" font-size="22.5" text-anchor="middle" fill="#371ea3" stroke="#371ea3" stroke-width="0.32">0.4</text>
<text x="3604.8" y="1649.4" font-size="22.5" text-anchor="middle" fill="#371ea3" stroke="#371ea3" stroke-width="0.32">0.5</text>
<text x="3905.4" y="1649.4" font-size="22.5" text-anchor="middle" fill="#371ea3" stroke="#371ea3" stroke-width="0.32">0.6</text>
<text x="3642.5" y="1677.4" font-size="25.1" text-anchor="middle" fill="#371ea3" stroke="#371ea3" stroke-width="0.32">Root mean square error (RMSE) loss after permutations</text>
</g>
<g id="panelE">
<text x="58.6" y="1196.3" font-size="23.7" stroke="#000" stroke-width="0.22">Points</text>
<text x="58.6" y="1274.96" font-size="23.7" stroke="#000" stroke-width="0.22">INSR</text>
<text x="58.6" y="1353.62" font-size="23.7" stroke="#000" stroke-width="0.22">CCND1</text>
<text x="58.6" y="1432.28" font-size="23.7" stroke="#000" stroke-width="0.22">ERBB2</text>
<text x="58.6" y="1510.94" font-size="23.7" stroke="#000" stroke-width="0.22">TP53</text>
<text x="58.6" y="1589.6" font-size="23.7" stroke="#000" stroke-width="0.22">SERPINE1</text>
<text x="58.6" y="1668.26" font-size="23.7" stroke="#000" stroke-width="0.22">Total Points</text>
<text x="58.6" y="1746.92" font-size="23.7" stroke="#000" stroke-width="0.22">Risk of Disease</text>
<line x1="311.7" y1="1187.6" x2="1032.7" y2="1187.6" stroke="#000" stroke-width="1.5"/>
<line x1="311.7" y1="1188.35" x2="311.7" y2="1180.2" stroke="#000" stroke-width="1.5"/>
<text x="311.7" y="1169.8" font-size="19.9" text-anchor="middle" stroke="#000" stroke-width="0.22">0</text>
<line x1="329.72" y1="1188.35" x2="329.72" y2="1183.9" stroke="#000" stroke-width="1.5"/>
<line x1="347.75" y1="1188.35" x2="347.75" y2="1183.9" stroke="#000" stroke-width="1.5"/>
<line x1="365.77" y1="1188.35" x2="365.77" y2="1183.9" stroke="#000" stroke-width="1.5"/>
<line x1="383.8" y1="1188.35" x2="383.8" y2="1180.2" stroke="#000" stroke-width="1.5"/>
<text x="383.8" y="1169.8" font-size="19.9" text-anchor="middle" stroke="#000" stroke-width="0.22">10</text>
<line x1="401.82" y1="1188.35" x2="401.82" y2="1183.9" stroke="#000" stroke-width="1.5"/>
<line x1="419.85" y1="1188.35" x2="419.85" y2="1183.9" stroke="#000" stroke-width="1.5"/>
<line x1="437.88" y1="1188.35" x2="437.88" y2="1183.9" stroke="#000" stroke-width="1.5"/>
<line x1="455.9" y1="1188.35" x2="455.9" y2="1180.2" stroke="#000" stroke-width="1.5"/>
<text x="455.9" y="1169.8" font-size="19.9" text-anchor="middle" stroke="#000" stroke-width="0.22">20</text>
<line x1="473.92" y1="1188.35" x2="473.92" y2="1183.9" stroke="#000" stroke-width="1.5"/>
<line x1="491.95" y1="1188.35" x2="491.95" y2="1183.9" stroke="#000" stroke-width="1.5"/>
<line x1="509.98" y1="1188.35" x2="509.98" y2="1183.9" stroke="#000" stroke-width="1.5"/>
<line x1="528" y1="1188.35" x2="528" y2="1180.2" stroke="#000" stroke-width="1.5"/>
<text x="528" y="1169.8" font-size="19.9" text-anchor="middle" stroke="#000" stroke-width="0.22">30</text>
<line x1="546.02" y1="1188.35" x2="546.02" y2="1183.9" stroke="#000" stroke-width="1.5"/>
<line x1="564.05" y1="1188.35" x2="564.05" y2="1183.9" stroke="#000" stroke-width="1.5"/>
<line x1="582.08" y1="1188.35" x2="582.08" y2="1183.9" stroke="#000" stroke-width="1.5"/>
<line x1="600.1" y1="1188.35" x2="600.1" y2="1180.2" stroke="#000" stroke-width="1.5"/>
<text x="600.1" y="1169.8" font-size="19.9" text-anchor="middle" stroke="#000" stroke-width="0.22">40</text>
<line x1="618.12" y1="1188.35" x2="618.12" y2="1183.9" stroke="#000" stroke-width="1.5"/>
<line x1="636.15" y1="1188.35" x2="636.15" y2="1183.9" stroke="#000" stroke-width="1.5"/>
<line x1="654.17" y1="1188.35" x2="654.17" y2="1183.9" stroke="#000" stroke-width="1.5"/>
<line x1="672.2" y1="1188.35" x2="672.2" y2="1180.2" stroke="#000" stroke-width="1.5"/>
<text x="672.2" y="1169.8" font-size="19.9" text-anchor="middle" stroke="#000" stroke-width="0.22">50</text>
<line x1="690.22" y1="1188.35" x2="690.22" y2="1183.9" stroke="#000" stroke-width="1.5"/>
<line x1="708.25" y1="1188.35" x2="708.25" y2="1183.9" stroke="#000" stroke-width="1.5"/>
<line x1="726.27" y1="1188.35" x2="726.27" y2="1183.9" stroke="#000" stroke-width="1.5"/>
<line x1="744.3" y1="1188.35" x2="744.3" y2="1180.2" stroke="#000" stroke-width="1.5"/>
<text x="744.3" y="1169.8" font-size="19.9" text-anchor="middle" stroke="#000" stroke-width="0.22">60</text>
<line x1="762.33" y1="1188.35" x2="762.33" y2="1183.9" stroke="#000" stroke-width="1.5"/>
<line x1="780.35" y1="1188.35" x2="780.35" y2="1183.9" stroke="#000" stroke-width="1.5"/>
<line x1="798.38" y1="1188.35" x2="798.38" y2="1183.9" stroke="#000" stroke-width="1.5"/>
<line x1="816.4" y1="1188.35" x2="816.4" y2="1180.2" stroke="#000" stroke-width="1.5"/>
<text x="816.4" y="1169.8" font-size="19.9" text-anchor="middle" stroke="#000" stroke-width="0.22">70</text>
<line x1="834.42" y1="1188.35" x2="834.42" y2="1183.9" stroke="#000" stroke-width="1.5"/>
<line x1="852.45" y1="1188.35" x2="852.45" y2="1183.9" stroke="#000" stroke-width="1.5"/>
<line x1="870.47" y1="1188.35" x2="870.47" y2="1183.9" stroke="#000" stroke-width="1.5"/>
<line x1="888.5" y1="1188.35" x2="888.5" y2="1180.2" stroke="#000" stroke-width="1.5"/>
<text x="888.5" y="1169.8" font-size="19.9" text-anchor="middle" stroke="#000" stroke-width="0.22">80</text>
<line x1="906.53" y1="1188.35" x2="906.53" y2="1183.9" stroke="#000" stroke-width="1.5"/>
<line x1="924.55" y1="1188.35" x2="924.55" y2="1183.9" stroke="#000" stroke-width="1.5"/>
<line x1="942.58" y1="1188.35" x2="942.58" y2="1183.9" stroke="#000" stroke-width="1.5"/>
<line x1="960.6" y1="1188.35" x2="960.6" y2="1180.2" stroke="#000" stroke-width="1.5"/>
<text x="960.6" y="1169.8" font-size="19.9" text-anchor="middle" stroke="#000" stroke-width="0.22">90</text>
<line x1="978.62" y1="1188.35" x2="978.62" y2="1183.9" stroke="#000" stroke-width="1.5"/>
<line x1="996.65" y1="1188.35" x2="996.65" y2="1183.9" stroke="#000" stroke-width="1.5"/>
<line x1="1014.67" y1="1188.35" x2="1014.67" y2="1183.9" stroke="#000" stroke-width="1.5"/>
<line x1="1032.7" y1="1188.35" x2="1032.7" y2="1180.2" stroke="#000" stroke-width="1.5"/>
<text x="1032.7" y="1169.8" font-size="19.9" text-anchor="middle" stroke="#000" stroke-width="0.22">100</text>
<line x1="311.7" y1="1266.26" x2="1032.7" y2="1266.26" stroke="#000" stroke-width="1.5"/>
<line x1="311.7" y1="1265.51" x2="311.7" y2="1273.76" stroke="#000" stroke-width="1.5"/>
<line x1="383.8" y1="1265.51" x2="383.8" y2="1273.76" stroke="#000" stroke-width="1.5"/>
<line x1="455.9" y1="1265.51" x2="455.9" y2="1273.76" stroke="#000" stroke-width="1.5"/>
<line x1="528" y1="1265.51" x2="528" y2="1273.76" stroke="#000" stroke-width="1.5"/>
<line x1="600.1" y1="1265.51" x2="600.1" y2="1273.76" stroke="#000" stroke-width="1.5"/>
<line x1="672.2" y1="1265.51" x2="672.2" y2="1273.76" stroke="#000" stroke-width="1.5"/>
<line x1="744.3" y1="1265.51" x2="744.3" y2="1273.76" stroke="#000" stroke-width="1.5"/>
<line x1="816.4" y1="1265.51" x2="816.4" y2="1273.76" stroke="#000" stroke-width="1.5"/>
<line x1="888.5" y1="1265.51" x2="888.5" y2="1273.76" stroke="#000" stroke-width="1.5"/>
<line x1="960.6" y1="1265.51" x2="960.6" y2="1273.76" stroke="#000" stroke-width="1.5"/>
<line x1="1032.7" y1="1265.51" x2="1032.7" y2="1273.76" stroke="#000" stroke-width="1.5"/>
<text x="311.7" y="1297.26" font-size="19.9" text-anchor="middle" stroke="#000" stroke-width="0.22">17.7</text>
<text x="383.8" y="1297.26" font-size="19.9" text-anchor="middle" stroke="#000" stroke-width="0.22">17.8</text>
<text x="455.9" y="1297.26" font-size="19.9" text-anchor="middle" stroke="#000" stroke-width="0.22">17.9</text>
<text x="528" y="1297.26" font-size="19.9" text-anchor="middle" stroke="#000" stroke-width="0.22">18</text>
<text x="600.1" y="1297.26" font-size="19.9" text-anchor="middle" stroke="#000" stroke-width="0.22">18.1</text>
<text x="672.2" y="1297.26" font-size="19.9" text-anchor="middle" stroke="#000" stroke-width="0.22">18.2</text>
<text x="744.3" y="1297.26" font-size="19.9" text-anchor="middle" stroke="#000" stroke-width="0.22">18.3</text>
<text x="816.4" y="1297.26" font-size="19.9" text-anchor="middle" stroke="#000" stroke-width="0.22">18.4</text>
<text x="888.5" y="1297.26" font-size="19.9" text-anchor="middle" stroke="#000" stroke-width="0.22">18.5</text>
<text x="960.6" y="1297.26" font-size="19.9" text-anchor="middle" stroke="#000" stroke-width="0.22">18.6</text>
<text x="1032.7" y="1297.26" font-size="19.9" text-anchor="middle" stroke="#000" stroke-width="0.22">18.7</text>
<line x1="311.7" y1="1344.92" x2="723.3" y2="1344.92" stroke="#000" stroke-width="1.5"/>
<line x1="311.7" y1="1344.17" x2="311.7" y2="1352.42" stroke="#000" stroke-width="1.5"/>
<line x1="363.15" y1="1344.17" x2="363.15" y2="1352.42" stroke="#000" stroke-width="1.5"/>
<line x1="414.6" y1="1344.17" x2="414.6" y2="1352.42" stroke="#000" stroke-width="1.5"/>
<line x1="466.05" y1="1344.17" x2="466.05" y2="1352.42" stroke="#000" stroke-width="1.5"/>
<line x1="517.5" y1="1344.17" x2="517.5" y2="1352.42" stroke="#000" stroke-width="1.5"/>
<line x1="568.95" y1="1344.17" x2="568.95" y2="1352.42" stroke="#000" stroke-width="1.5"/>
<line x1="620.4" y1="1344.17" x2="620.4" y2="1352.42" stroke="#000" stroke-width="1.5"/>
<line x1="671.85" y1="1344.17" x2="671.85" y2="1352.42" stroke="#000" stroke-width="1.5"/>
<line x1="723.3" y1="1344.17" x2="723.3" y2="1352.42" stroke="#000" stroke-width="1.5"/>
<text x="311.7" y="1375.92" font-size="19.9" text-anchor="middle" stroke="#000" stroke-width="0.22">13</text>
<text x="363.15" y="1375.92" font-size="19.9" text-anchor="middle" stroke="#000" stroke-width="0.22">13.5</text>
<text x="414.6" y="1375.92" font-size="19.9" text-anchor="middle" stroke="#000" stroke-width="0.22">14</text>
<text x="466.05" y="1375.92" font-size="19.9" text-anchor="middle" stroke="#000" stroke-width="0.22">14.5</text>
<text x="517.5" y="1375.92" font-size="19.9" text-anchor="middle" stroke="#000" stroke-width="0.22">15</text>
<text x="568.95" y="1375.92" font-size="19.9" text-anchor="middle" stroke="#000" stroke-width="0.22">15.5</text>
<text x="620.4" y="1375.92" font-size="19.9" text-anchor="middle" stroke="#000" stroke-width="0.22">16</text>
<text x="671.85" y="1375.92" font-size="19.9" text-anchor="middle" stroke="#000" stroke-width="0.22">16.5</text>
<text x="723.3" y="1375.92" font-size="19.9" text-anchor="middle" stroke="#000" stroke-width="0.22">17</text>
<line x1="311.7" y1="1423.58" x2="596.5" y2="1423.58" stroke="#000" stroke-width="1.5"/>
<line x1="311.7" y1="1422.83" x2="311.7" y2="1431.08" stroke="#000" stroke-width="1.5"/>
<line x1="332.04" y1="1422.83" x2="332.04" y2="1431.08" stroke="#000" stroke-width="1.5"/>
<line x1="352.39" y1="1422.83" x2="352.39" y2="1431.08" stroke="#000" stroke-width="1.5"/>
<line x1="372.73" y1="1422.83" x2="372.73" y2="1431.08" stroke="#000" stroke-width="1.5"/>
<line x1="393.07" y1="1422.83" x2="393.07" y2="1431.08" stroke="#000" stroke-width="1.5"/>
<line x1="413.41" y1="1422.83" x2="413.41" y2="1431.08" stroke="#000" stroke-width="1.5"/>
<line x1="433.76" y1="1422.83" x2="433.76" y2="1431.08" stroke="#000" stroke-width="1.5"/>
<line x1="454.1" y1="1422.83" x2="454.1" y2="1431.08" stroke="#000" stroke-width="1.5"/>
<line x1="474.44" y1="1422.83" x2="474.44" y2="1431.08" stroke="#000" stroke-width="1.5"/>
<line x1="494.79" y1="1422.83" x2="494.79" y2="1431.08" stroke="#000" stroke-width="1.5"/>
<line x1="515.13" y1="1422.83" x2="515.13" y2="1431.08" stroke="#000" stroke-width="1.5"/>
<line x1="535.47" y1="1422.83" x2="535.47" y2="1431.08" stroke="#000" stroke-width="1.5"/>
<line x1="555.81" y1="1422.83" x2="555.81" y2="1431.08" stroke="#000" stroke-width="1.5"/>
<line x1="576.16" y1="1422.83" x2="576.16" y2="1431.08" stroke="#000" stroke-width="1.5"/>
<line x1="596.5" y1="1422.83" x2="596.5" y2="1431.08" stroke="#000" stroke-width="1.5"/>
<text x="311.7" y="1454.58" font-size="19.9" text-anchor="middle" stroke="#000" stroke-width="0.22">15.3</text>
<text x="372.73" y="1454.58" font-size="19.9" text-anchor="middle" stroke="#000" stroke-width="0.22">15.6</text>
<text x="433.76" y="1454.58" font-size="19.9" text-anchor="middle" stroke="#000" stroke-width="0.22">15.9</text>
<text x="494.79" y="1454.58" font-size="19.9" text-anchor="middle" stroke="#000" stroke-width="0.22">16.2</text>
<text x="555.81" y="1454.58" font-size="19.9" text-anchor="middle" stroke="#000" stroke-width="0.22">16.5</text>
<line x1="311.7" y1="1502.24" x2="575.3" y2="1502.24" stroke="#000" stroke-width="1.5"/>
<line x1="311.7" y1="1501.49" x2="311.7" y2="1509.74" stroke="#000" stroke-width="1.5"/>
<line x1="333.67" y1="1501.49" x2="333.67" y2="1509.74" stroke="#000" stroke-width="1.5"/>
<line x1="355.63" y1="1501.49" x2="355.63" y2="1509.74" stroke="#000" stroke-width="1.5"/>
<line x1="377.6" y1="1501.49" x2="377.6" y2="1509.74" stroke="#000" stroke-width="1.5"/>
<line x1="399.57" y1="1501.49" x2="399.57" y2="1509.74" stroke="#000" stroke-width="1.5"/>
<line x1="421.53" y1="1501.49" x2="421.53" y2="1509.74" stroke="#000" stroke-width="1.5"/>
<line x1="443.5" y1="1501.49" x2="443.5" y2="1509.74" stroke="#000" stroke-width="1.5"/>
<line x1="465.47" y1="1501.49" x2="465.47" y2="1509.74" stroke="#000" stroke-width="1.5"/>
<line x1="487.43" y1="1501.49" x2="487.43" y2="1509.74" stroke="#000" stroke-width="1.5"/>
<line x1="509.4" y1="1501.49" x2="509.4" y2="1509.74" stroke="#000" stroke-width="1.5"/>
<line x1="531.37" y1="1501.49" x2="531.37" y2="1509.74" stroke="#000" stroke-width="1.5"/>
<line x1="553.33" y1="1501.49" x2="553.33" y2="1509.74" stroke="#000" stroke-width="1.5"/>
<line x1="575.3" y1="1501.49" x2="575.3" y2="1509.74" stroke="#000" stroke-width="1.5"/>
<text x="311.7" y="1533.24" font-size="19.9" text-anchor="middle" stroke="#000" stroke-width="0.22">12.6</text>
<text x="377.6" y="1533.24" font-size="19.9" text-anchor="middle" stroke="#000" stroke-width="0.22">13.2</text>
<text x="443.5" y="1533.24" font-size="19.9" text-anchor="middle" stroke="#000" stroke-width="0.22">13.8</text>
<text x="509.4" y="1533.24" font-size="19.9" text-anchor="middle" stroke="#000" stroke-width="0.22">14.4</text>
<text x="575.3" y="1533.24" font-size="19.9" text-anchor="middle" stroke="#000" stroke-width="0.22">15</text>
<line x1="311.7" y1="1580.9" x2="513" y2="1580.9" stroke="#000" stroke-width="1.5"/>
<line x1="311.7" y1="1580.15" x2="311.7" y2="1588.4" stroke="#000" stroke-width="1.5"/>
<line x1="326.08" y1="1580.15" x2="326.08" y2="1588.4" stroke="#000" stroke-width="1.5"/>
<line x1="340.46" y1="1580.15" x2="340.46" y2="1588.4" stroke="#000" stroke-width="1.5"/>
<line x1="354.84" y1="1580.15" x2="354.84" y2="1588.4" stroke="#000" stroke-width="1.5"/>
<line x1="369.21" y1="1580.15" x2="369.21" y2="1588.4" stroke="#000" stroke-width="1.5"/>
<line x1="383.59" y1="1580.15" x2="383.59" y2="1588.4" stroke="#000" stroke-width="1.5"/>
<line x1="397.97" y1="1580.15" x2="397.97" y2="1588.4" stroke="#000" stroke-width="1.5"/>
<line x1="412.35" y1="1580.15" x2="412.35" y2="1588.4" stroke="#000" stroke-width="1.5"/>
<line x1="426.73" y1="1580.15" x2="426.73" y2="1588.4" stroke="#000" stroke-width="1.5"/>
<line x1="441.11" y1="1580.15" x2="441.11" y2="1588.4" stroke="#000" stroke-width="1.5"/>
<line x1="455.49" y1="1580.15" x2="455.49" y2="1588.4" stroke="#000" stroke-width="1.5"/>
<line x1="469.86" y1="1580.15" x2="469.86" y2="1588.4" stroke="#000" stroke-width="1.5"/>
<line x1="484.24" y1="1580.15" x2="484.24" y2="1588.4" stroke="#000" stroke-width="1.5"/>
<line x1="498.62" y1="1580.15" x2="498.62" y2="1588.4" stroke="#000" stroke-width="1.5"/>
<line x1="513" y1="1580.15" x2="513" y2="1588.4" stroke="#000" stroke-width="1.5"/>
<text x="311.7" y="1611.9" font-size="19.9" text-anchor="middle" stroke="#000" stroke-width="0.22">10</text>
<text x="369.21" y="1611.9" font-size="19.9" text-anchor="middle" stroke="#000" stroke-width="0.22">12</text>
<text x="426.73" y="1611.9" font-size="19.9" text-anchor="middle" stroke="#000" stroke-width="0.22">14</text>
<text x="484.24" y="1611.9" font-size="19.9" text-anchor="middle" stroke="#000" stroke-width="0.22">16</text>
<line x1="311.7" y1="1659.56" x2="1032.6" y2="1659.56" stroke="#000" stroke-width="1.5"/>
<line x1="311.7" y1="1658.81" x2="311.7" y2="1667.06" stroke="#000" stroke-width="1.5"/>
<line x1="323.71" y1="1658.81" x2="323.71" y2="1663.56" stroke="#000" stroke-width="1.5"/>
<line x1="335.73" y1="1658.81" x2="335.73" y2="1663.56" stroke="#000" stroke-width="1.5"/>
<line x1="347.75" y1="1658.81" x2="347.75" y2="1663.56" stroke="#000" stroke-width="1.5"/>
<line x1="359.76" y1="1658.81" x2="359.76" y2="1663.56" stroke="#000" stroke-width="1.5"/>
<line x1="371.77" y1="1658.81" x2="371.77" y2="1667.06" stroke="#000" stroke-width="1.5"/>
<line x1="383.79" y1="1658.81" x2="383.79" y2="1663.56" stroke="#000" stroke-width="1.5"/>
<line x1="395.8" y1="1658.81" x2="395.8" y2="1663.56" stroke="#000" stroke-width="1.5"/>
<line x1="407.82" y1="1658.81" x2="407.82" y2="1663.56" stroke="#000" stroke-width="1.5"/>
<line x1="419.83" y1="1658.81" x2="419.83" y2="1663.56" stroke="#000" stroke-width="1.5"/>
<line x1="431.85" y1="1658.81" x2="431.85" y2="1667.06" stroke="#000" stroke-width="1.5"/>
<line x1="443.87" y1="1658.81" x2="443.87" y2="1663.56" stroke="#000" stroke-width="1.5"/>
<line x1="455.88" y1="1658.81" x2="455.88" y2="1663.56" stroke="#000" stroke-width="1.5"/>
<line x1="467.89" y1="1658.81" x2="467.89" y2="1663.56" stroke="#000" stroke-width="1.5"/>
<line x1="479.91" y1="1658.81" x2="479.91" y2="1663.56" stroke="#000" stroke-width="1.5"/>
<line x1="491.92" y1="1658.81" x2="491.92" y2="1667.06" stroke="#000" stroke-width="1.5"/>
<line x1="503.94" y1="1658.81" x2="503.94" y2="1663.56" stroke="#000" stroke-width="1.5"/>
<line x1="515.95" y1="1658.81" x2="515.95" y2="1663.56" stroke="#000" stroke-width="1.5"/>
<line x1="527.97" y1="1658.81" x2="527.97" y2="1663.56" stroke="#000" stroke-width="1.5"/>
<line x1="539.98" y1="1658.81" x2="539.98" y2="1663.56" stroke="#000" stroke-width="1.5"/>
<line x1="552" y1="1658.81" x2="552" y2="1667.06" stroke="#000" stroke-width="1.5"/>
<line x1="564.01" y1="1658.81" x2="564.01" y2="1663.56" stroke="#000" stroke-width="1.5"/>
<line x1="576.03" y1="1658.81" x2="576.03" y2="1663.56" stroke="#000" stroke-width="1.5"/>
<line x1="588.04" y1="1658.81" x2="588.04" y2="1663.56" stroke="#000" stroke-width="1.5"/>
<line x1="600.06" y1="1658.81" x2="600.06" y2="1663.56" stroke="#000" stroke-width="1.5"/>
<line x1="612.07" y1="1658.81" x2="612.07" y2="1667.06" stroke="#000" stroke-width="1.5"/>
<line x1="624.09" y1="1658.81" x2="624.09" y2="1663.56" stroke="#000" stroke-width="1.5"/>
<line x1="636.1" y1="1658.81" x2="636.1" y2="1663.56" stroke="#000" stroke-width="1.5"/>
<line x1="648.12" y1="1658.81" x2="648.12" y2="1663.56" stroke="#000" stroke-width="1.5"/>
<line x1="660.13" y1="1658.81" x2="660.13" y2="1663.56" stroke="#000" stroke-width="1.5"/>
<line x1="672.15" y1="1658.81" x2="672.15" y2="1667.06" stroke="#000" stroke-width="1.5"/>
<line x1="684.16" y1="1658.81" x2="684.16" y2="1663.56" stroke="#000" stroke-width="1.5"/>
<line x1="696.18" y1="1658.81" x2="696.18" y2="1663.56" stroke="#000" stroke-width="1.5"/>
<line x1="708.19" y1="1658.81" x2="708.19" y2="1663.56" stroke="#000" stroke-width="1.5"/>
<line x1="720.21" y1="1658.81" x2="720.21" y2="1663.56" stroke="#000" stroke-width="1.5"/>
<line x1="732.22" y1="1658.81" x2="732.22" y2="1667.06" stroke="#000" stroke-width="1.5"/>
<line x1="744.24" y1="1658.81" x2="744.24" y2="1663.56" stroke="#000" stroke-width="1.5"/>
<line x1="756.25" y1="1658.81" x2="756.25" y2="1663.56" stroke="#000" stroke-width="1.5"/>
<line x1="768.27" y1="1658.81" x2="768.27" y2="1663.56" stroke="#000" stroke-width="1.5"/>
<line x1="780.28" y1="1658.81" x2="780.28" y2="1663.56" stroke="#000" stroke-width="1.5"/>
<line x1="792.3" y1="1658.81" x2="792.3" y2="1667.06" stroke="#000" stroke-width="1.5"/>
<line x1="804.31" y1="1658.81" x2="804.31" y2="1663.56" stroke="#000" stroke-width="1.5"/>
<line x1="816.33" y1="1658.81" x2="816.33" y2="1663.56" stroke="#000" stroke-width="1.5"/>
<line x1="828.34" y1="1658.81" x2="828.34" y2="1663.56" stroke="#000" stroke-width="1.5"/>
<line x1="840.36" y1="1658.81" x2="840.36" y2="1663.56" stroke="#000" stroke-width="1.5"/>
<line x1="852.37" y1="1658.81" x2="852.37" y2="1667.06" stroke="#000" stroke-width="1.5"/>
<line x1="864.39" y1="1658.81" x2="864.39" y2="1663.56" stroke="#000" stroke-width="1.5"/>
<line x1="876.4" y1="1658.81" x2="876.4" y2="1663.56" stroke="#000" stroke-width="1.5"/>
<line x1="888.42" y1="1658.81" x2="888.42" y2="1663.56" stroke="#000" stroke-width="1.5"/>
<line x1="900.43" y1="1658.81" x2="900.43" y2="1663.56" stroke="#000" stroke-width="1.5"/>
<line x1="912.45" y1="1658.81" x2="912.45" y2="1667.06" stroke="#000" stroke-width="1.5"/>
<line x1="924.46" y1="1658.81" x2="924.46" y2="1663.56" stroke="#000" stroke-width="1.5"/>
<line x1="936.48" y1="1658.81" x2="936.48" y2="1663.56" stroke="#000" stroke-width="1.5"/>
<line x1="948.49" y1="1658.81" x2="948.49" y2="1663.56" stroke="#000" stroke-width="1.5"/>
<line x1="960.51" y1="1658.81" x2="960.51" y2="1663.56" stroke="#000" stroke-width="1.5"/>
<line x1="972.52" y1="1658.81" x2="972.52" y2="1667.06" stroke="#000" stroke-width="1.5"/>
<line x1="984.54" y1="1658.81" x2="984.54" y2="1663.56" stroke="#000" stroke-width="1.5"/>
<line x1="996.55" y1="1658.81" x2="996.55" y2="1663.56" stroke="#000" stroke-width="1.5"/>
<line x1="1008.57" y1="1658.81" x2="1008.57" y2="1663.56" stroke="#000" stroke-width="1.5"/>
<line x1="1020.58" y1="1658.81" x2="1020.58" y2="1663.56" stroke="#000" stroke-width="1.5"/>
<line x1="1032.6" y1="1658.81" x2="1032.6" y2="1667.06" stroke="#000" stroke-width="1.5"/>
<text x="311.7" y="1690.56" font-size="19.9" text-anchor="middle" stroke="#000" stroke-width="0.22">0</text>
<text x="371.77" y="1690.56" font-size="19.9" text-anchor="middle" stroke="#000" stroke-width="0.22">20</text>
<text x="431.85" y="1690.56" font-size="19.9" text-anchor="middle" stroke="#000" stroke-width="0.22">40</text>
<text x="491.92" y="1690.56" font-size="19.9" text-anchor="middle" stroke="#000" stroke-width="0.22">60</text>
<text x="552" y="1690.56" font-size="19.9" text-anchor="middle" stroke="#000" stroke-width="0.22">80</text>
<text x="612.07" y="1690.56" font-size="19.9" text-anchor="middle" stroke="#000" stroke-width="0.22">100</text>
<text x="672.15" y="1690.56" font-size="19.9" text-anchor="middle" stroke="#000" stroke-width="0.22">120</text>
<text x="732.22" y="1690.56" font-size="19.9" text-anchor="middle" stroke="#000" stroke-width="0.22">140</text>
<text x="792.3" y="1690.56" font-size="19.9" text-anchor="middle" stroke="#000" stroke-width="0.22">160</text>
<text x="852.38" y="1690.56" font-size="19.9" text-anchor="middle" stroke="#000" stroke-width="0.22">180</text>
<text x="912.45" y="1690.56" font-size="19.9" text-anchor="middle" stroke="#000" stroke-width="0.22">200</text>
<text x="972.52" y="1690.56" font-size="19.9" text-anchor="middle" stroke="#000" stroke-width="0.22">220</text>
<text x="1032.6" y="1690.56" font-size="19.9" text-anchor="middle" stroke="#000" stroke-width="0.22">240</text>
<line x1="595.1" y1="1738.22" x2="831.9" y2="1738.22" stroke="#000" stroke-width="1.5"/>
<line x1="595.1" y1="1737.47" x2="595.1" y2="1745.72" stroke="#000" stroke-width="1.5"/>
<text x="595.1" y="1769.22" font-size="19.9" text-anchor="middle" stroke="#000" stroke-width="0.22">0.1</text>
<line x1="642.2" y1="1737.47" x2="642.2" y2="1745.72" stroke="#000" stroke-width="1.5"/>
<text x="642.2" y="1769.22" font-size="19.9" text-anchor="middle" stroke="#000" stroke-width="0.22">0.3</text>
<line x1="671.8" y1="1737.47" x2="671.8" y2="1745.72" stroke="#000" stroke-width="1.5"/>
<text x="671.8" y="1769.22" font-size="19.9" text-anchor="middle" stroke="#000" stroke-width="0.22">0.5</text>
<line x1="701.2" y1="1737.47" x2="701.2" y2="1745.72" stroke="#000" stroke-width="1.5"/>
<text x="701.2" y="1769.22" font-size="19.9" text-anchor="middle" stroke="#000" stroke-width="0.22">0.7</text>
<line x1="748.3" y1="1737.47" x2="748.3" y2="1745.72" stroke="#000" stroke-width="1.5"/>
<text x="748.3" y="1769.22" font-size="19.9" text-anchor="middle" stroke="#000" stroke-width="0.22">0.9</text>
<line x1="831.9" y1="1737.47" x2="831.9" y2="1745.72" stroke="#000" stroke-width="1.5"/>
<text x="831.9" y="1769.22" font-size="19.9" text-anchor="middle" stroke="#000" stroke-width="0.22">0.99</text>
</g>
<g id="panelF">
<path d="M1289.1,1144.9V1157.2M1303.1,1144.9V1157.2M1318.3,1144.9V1157.2M1350.7,1144.9V1157.2M1367,1144.9V1157.2M1382.6,1144.9V1157.2M1411.7,1144.9V1157.2M1444.8,1144.9V1157.2M1512.9,1144.9V1157.2M1516.2,1144.9V1157.2M1537.1,1144.9V1157.2M1548.9,1144.9V1157.2M1579.9,1144.9V1157.2M1596,1144.9V1157.2M1610.3,1144.9V1157.2M1636,1144.9V1157.2M1658.9,1144.9V1157.2M1679.5,1144.9V1157.2M1741.3,1144.9V1157.2M1758.7,1144.9V1157.2M1764.6,1144.9V1157.2M1783.9,1144.9V1157.2M1797,1144.9V1157.2M1815.9,1144.9V1157.2M1825.2,1144.9V1157.2M1842.7,1144.9V1157.2M1851.5,1144.9V1157.2M1856.6,1144.9V1157.2M1861.3,1144.9V1157.2M1866,1144.9V1157.2M1870.6,1144.9V1157.2M1883.4,1144.9V1157.2M1888.8,1144.9V1157.2M1897.9,1144.9V1157.2M1906.1,1144.9V1157.2M1913.1,1144.9V1157.2M1921.4,1144.9V1157.2M1933.6,1144.9V1157.2M1935.4,1144.9V1157.2M1937.3,1144.9V1157.2M1940.6,1144.9V1157.2M1942.9,1144.9V1157.2M1945.2,1144.9V1157.2M1947.6,1144.9V1157.2" fill="none" stroke="#7f7f7f" stroke-width="1.2"/>
<line x1="1237.6" y1="1774.3" x2="1969.9" y2="1144.9" stroke="#000" stroke-width="1.8" stroke-dasharray="7 7.6"/>
<polyline points="1283.2,1751.7 1339.9,1686.5 1374.8,1653.8 1433.1,1593.2 1493.2,1532 1539.9,1480.8 1574.8,1443.5 1609.8,1410.8 1633.1,1389.9 1647.1,1379.4 1663.4,1375.2 1675.1,1375.9 1691.4,1378.9 1714.7,1380.1 1740.3,1378.7 1747.3,1364.2 1756.6,1340.9 1766,1319.9 1784.6,1305.9 1842.9,1254.7 1939.4,1186.9" fill="none" stroke="#000" stroke-width="1.8" stroke-dasharray="2 5.6"/>
<polyline points="1283.2,1702.8 1304.9,1681.8 1339.9,1649.2 1409.8,1585.1 1468.8,1533.4 1530.5,1479.4 1579.5,1436.2 1605.1,1414.3 1633.1,1396.4 1647.1,1389.9 1660.4,1386.6 1672.7,1388.2 1686.7,1394.1 1710,1396.9 1727.5,1399.2 1741,1398.5 1767.8,1338.6 1796.3,1317.6 1884.8,1251.2 1942.9,1207.1" fill="none" stroke="#000" stroke-width="1.8" stroke-linejoin="round"/>
<rect x="1237.6" y="1144.9" width="732.3" height="629.4" fill="none" stroke="#000" stroke-width="2"/>
<line x1="1297.8" y1="1774.3" x2="1297.8" y2="1792.3" stroke="#000" stroke-width="2"/>
<text x="1297.8" y="1836.5" font-size="28.6" text-anchor="middle" stroke="#000" stroke-width="0.22">0.2</text>
<line x1="1219.2" y1="1722" x2="1237.6" y2="1722" stroke="#000" stroke-width="2"/>
<text x="1195.2" y="1722" font-size="28.6" text-anchor="middle" transform="rotate(-90 1195.2 1722)" stroke="#000" stroke-width="0.22">0.2</text>
<line x1="1459.9" y1="1774.3" x2="1459.9" y2="1792.3" stroke="#000" stroke-width="2"/>
<text x="1459.9" y="1836.5" font-size="28.6" text-anchor="middle" stroke="#000" stroke-width="0.22">0.4</text>
<line x1="1219.2" y1="1582.85" x2="1237.6" y2="1582.85" stroke="#000" stroke-width="2"/>
<text x="1195.2" y="1582.85" font-size="28.6" text-anchor="middle" transform="rotate(-90 1195.2 1582.85)" stroke="#000" stroke-width="0.22">0.4</text>
<line x1="1622" y1="1774.3" x2="1622" y2="1792.3" stroke="#000" stroke-width="2"/>
<text x="1622" y="1836.5" font-size="28.6" text-anchor="middle" stroke="#000" stroke-width="0.22">0.6</text>
<line x1="1219.2" y1="1443.7" x2="1237.6" y2="1443.7" stroke="#000" stroke-width="2"/>
<text x="1195.2" y="1443.7" font-size="28.6" text-anchor="middle" transform="rotate(-90 1195.2 1443.7)" stroke="#000" stroke-width="0.22">0.6</text>
<line x1="1784.1" y1="1774.3" x2="1784.1" y2="1792.3" stroke="#000" stroke-width="2"/>
<text x="1784.1" y="1836.5" font-size="28.6" text-anchor="middle" stroke="#000" stroke-width="0.22">0.8</text>
<line x1="1219.2" y1="1304.55" x2="1237.6" y2="1304.55" stroke="#000" stroke-width="2"/>
<text x="1195.2" y="1304.55" font-size="28.6" text-anchor="middle" transform="rotate(-90 1195.2 1304.55)" stroke="#000" stroke-width="0.22">0.8</text>
<line x1="1946.2" y1="1774.3" x2="1946.2" y2="1792.3" stroke="#000" stroke-width="2"/>
<text x="1946.2" y="1836.5" font-size="28.6" text-anchor="middle" stroke="#000" stroke-width="0.22">1.0</text>
<line x1="1219.2" y1="1165.4" x2="1237.6" y2="1165.4" stroke="#000" stroke-width="2"/>
<text x="1195.2" y="1165.4" font-size="28.6" text-anchor="middle" transform="rotate(-90 1195.2 1165.4)" stroke="#000" stroke-width="0.22">1.0</text>
<text x="1603.75" y="1904.6" font-size="28.6" text-anchor="middle" stroke="#000" stroke-width="0.22">Predicted probability</text>
<text x="1128.2" y="1459.6" font-size="28.6" text-anchor="middle" transform="rotate(-90 1128.2 1459.6)" stroke="#000" stroke-width="0.22">Actual probability</text>
<line x1="1662" y1="1599.1" x2="1715.5" y2="1599.1" stroke="#000" stroke-width="1.8" stroke-dasharray="2 5.6"/>
<text x="1740.8" y="1609.5" font-size="28.6" stroke="#000" stroke-width="0.22">Apparent</text>
<line x1="1662" y1="1633.25" x2="1715.5" y2="1633.25" stroke="#000" stroke-width="1.8"/>
<text x="1740.8" y="1643.65" font-size="28.6" stroke="#000" stroke-width="0.22">Bias−corrected</text>
<line x1="1662" y1="1667.4" x2="1715.5" y2="1667.4" stroke="#000" stroke-width="1.8" stroke-dasharray="7 7.6"/>
<text x="1740.8" y="1677.8" font-size="28.6" stroke="#000" stroke-width="0.22">Ideal</text>
</g>
<g id="panelG">
<line x1="2178.9" y1="1108.6" x2="2178.9" y2="1781" stroke="#efefef" stroke-width="1.3"/>
<line x1="2317.96" y1="1108.6" x2="2317.96" y2="1781" stroke="#efefef" stroke-width="1.3"/>
<line x1="2457.02" y1="1108.6" x2="2457.02" y2="1781" stroke="#efefef" stroke-width="1.3"/>
<line x1="2596.08" y1="1108.6" x2="2596.08" y2="1781" stroke="#efefef" stroke-width="1.3"/>
<line x1="2735.14" y1="1108.6" x2="2735.14" y2="1781" stroke="#efefef" stroke-width="1.3"/>
<line x1="2874.2" y1="1108.6" x2="2874.2" y2="1781" stroke="#efefef" stroke-width="1.3"/>
<line x1="2151.4" y1="1716.2" x2="2901.5" y2="1716.2" stroke="#efefef" stroke-width="1.3"/>
<line x1="2151.4" y1="1555.8" x2="2901.5" y2="1555.8" stroke="#efefef" stroke-width="1.3"/>
<line x1="2151.4" y1="1395.4" x2="2901.5" y2="1395.4" stroke="#efefef" stroke-width="1.3"/>
<line x1="2151.4" y1="1235" x2="2901.5" y2="1235" stroke="#efefef" stroke-width="1.3"/>
<polyline points="2178.9,1186.32 2181.33,1187.27 2183.77,1188.24 2186.2,1189.21 2188.63,1190.18 2191.07,1191.17 2193.5,1192.16 2195.93,1193.15 2198.37,1194.16 2200.8,1195.17 2203.24,1196.19 2205.67,1197.21 2208.1,1198.25 2210.54,1199.29 2212.97,1200.34 2215.4,1201.4 2217.84,1202.46 2220.27,1203.53 2222.7,1204.61 2225.14,1205.7 2227.57,1206.8 2230,1207.91 2232.44,1209.02 2234.87,1210.14 2237.31,1211.27 2239.74,1212.41 2242.17,1213.56 2244.61,1214.72 2247.04,1215.88 2249.47,1217.06 2251.91,1218.24 2254.34,1219.44 2256.77,1220.64 2259.21,1221.85 2261.64,1223.07 2264.07,1224.31 2266.51,1225.55 2268.94,1226.8 2271.37,1228.06 2273.81,1229.33 2276.24,1230.62 2278.68,1231.91 2281.11,1233.21 2283.54,1234.53 2285.98,1235.85 2288.41,1237.19 2290.84,1238.54 2293.28,1239.9 2295.71,1241.27 2298.14,1242.65 2300.58,1244.04 2303.01,1245.45 2305.44,1246.86 2307.88,1248.29 2310.31,1249.73 2312.75,1251.19 2315.18,1252.66 2317.61,1254.14 2320.05,1255.63 2322.48,1257.13 2324.91,1258.65 2327.35,1260.19 2329.78,1261.73 2332.21,1263.29 2334.65,1264.87 2337.08,1266.46 2339.51,1268.06 2341.95,1269.68 2344.38,1271.31 2346.81,1272.96 2349.25,1274.62 2351.68,1276.3 2354.12,1277.99 2356.55,1279.71 2358.98,1281.43 2361.42,1283.17 2363.85,1284.93 2366.28,1286.71 2368.72,1288.5 2371.15,1290.31 2373.58,1292.14 2376.02,1293.99 2378.45,1295.85 2380.88,1297.74 2383.32,1299.64 2385.75,1301.56 2388.19,1303.5 2390.62,1305.46 2393.05,1307.43 2395.49,1309.43 2397.92,1311.45 2400.35,1313.49 2402.79,1315.55 2405.22,1317.64 2407.65,1319.74 2410.09,1321.87 2412.52,1324.02 2414.95,1326.19 2417.39,1328.38 2419.82,1330.6 2422.26,1332.84 2424.69,1335.11 2427.12,1337.4 2429.56,1339.72 2431.99,1342.06 2434.42,1344.43 2436.86,1346.82 2439.29,1349.24 2441.72,1351.69 2444.16,1354.17 2446.59,1356.67 2449.02,1359.2 2451.46,1361.76 2453.89,1364.35 2456.32,1366.98 2458.76,1369.63 2461.19,1372.31 2463.63,1375.03 2466.06,1377.78 2468.49,1380.56 2470.93,1383.37 2473.36,1386.22 2475.79,1389.1 2478.23,1392.02 2480.66,1394.97 2483.09,1397.97 2485.53,1401 2487.96,1404.06 2490.39,1407.17 2492.83,1410.31 2495.26,1413.5 2497.7,1416.73 2500.13,1420 2502.56,1423.31 2505,1426.66 2507.43,1430.06 2509.86,1433.51 2512.3,1437 2514.73,1440.54 2517.16,1444.13 2519.6,1447.77 2522.03,1451.45 2524.46,1455.19 2526.9,1458.98 2529.33,1462.83 2531.76,1466.73 2534.2,1470.68 2536.63,1474.69 2539.07,1478.76 2541.5,1482.89 2543.93,1487.08 2546.37,1491.33 2548.8,1495.65 2551.23,1500.03 2553.67,1504.48 2556.1,1508.99 2558.53,1513.58 2560.97,1518.24 2563.4,1522.97 2565.83,1527.77 2568.27,1532.65 2570.7,1537.61 2573.14,1542.65 2575.57,1547.77 2578,1552.98 2580.44,1558.27 2582.87,1563.65 2585.3,1569.12 2587.74,1574.68 2590.17,1580.34 2592.6,1586.1 2595.04,1591.95 2597.47,1597.92 2599.9,1603.98 2602.34,1610.16 2604.77,1616.44 2607.2,1622.84 2609.64,1629.36 2612.07,1636 2614.51,1642.76 2616.94,1649.66 2619.37,1656.68 2621.81,1663.84 2624.24,1671.14 2626.67,1678.58 2629.11,1686.17 2631.54,1693.91 2633.97,1701.81 2636.41,1709.87 2638.84,1718.1 2641.27,1726.49 2643.71,1735.07 2646.14,1743.83 2648.58,1752.78 2651.01,1761.92 2653.44,1771.27 2655.88,1780.82 2655.92,1781" fill="none" stroke="#bcbcbc" stroke-width="1.5"/>
<line x1="2178.9" y1="1716.2" x2="2867.1" y2="1716.2" stroke="#4d4d4d" stroke-width="1.6"/>
<polyline points="2178.9,1185.8 2207.8,1192.6 2213.7,1192.6 2247.5,1199.3 2256.8,1199.3 2290.6,1206.6 2297.1,1222.2 2310.4,1225 2318.6,1223.3 2338.4,1227.8 2345.4,1225.9 2352.4,1222.9 2360.5,1223.3 2366.8,1220.1 2373.3,1234.5 2381.5,1235.5 2442.1,1246.6 2450.3,1239.4 2458.4,1240.1 2478.2,1243.8 2484.8,1259 2527.2,1268.3 2547.7,1273.2 2554,1288.6 2576.1,1295.1 2599.4,1303.3 2640,1320.8 2658.5,1331 2665,1303.8 2679.5,1310 2693.5,1240.8 2700,1253.9 2728,1253.9 2735,1267.4 2762.5,1267.4 2776.9,1294.7 2783.2,1294.7 2790.4,1308.4 2825.2,1308.4 2832.2,1335.5 2852.7,1335.5 2860.1,1349.9 2866.6,1376.2" fill="none" stroke="#ee1515" stroke-width="2.4" stroke-linejoin="round"/>
<line x1="2151.4" y1="1235" x2="2151.4" y2="1716.2" stroke="#4d4d4d" stroke-width="1.6"/>
<line x1="2143.6" y1="1716.2" x2="2151.4" y2="1716.2" stroke="#4d4d4d" stroke-width="1.6"/>
<text x="2131" y="1716.2" font-size="14.6" text-anchor="middle" transform="rotate(-90 2131 1716.2)" stroke="#000" stroke-width="0.12">0.0</text>
<line x1="2143.6" y1="1555.8" x2="2151.4" y2="1555.8" stroke="#4d4d4d" stroke-width="1.6"/>
<text x="2131" y="1555.8" font-size="14.6" text-anchor="middle" transform="rotate(-90 2131 1555.8)" stroke="#000" stroke-width="0.12">0.2</text>
<line x1="2143.6" y1="1395.4" x2="2151.4" y2="1395.4" stroke="#4d4d4d" stroke-width="1.6"/>
<text x="2131" y="1395.4" font-size="14.6" text-anchor="middle" transform="rotate(-90 2131 1395.4)" stroke="#000" stroke-width="0.12">0.4</text>
<line x1="2143.6" y1="1235" x2="2151.4" y2="1235" stroke="#4d4d4d" stroke-width="1.6"/>
<text x="2131" y="1235" font-size="14.6" text-anchor="middle" transform="rotate(-90 2131 1235)" stroke="#000" stroke-width="0.12">0.6</text>
<text x="2097.3" y="1445" font-size="14.2" text-anchor="middle" transform="rotate(-90 2097.3 1445)" stroke="#000" stroke-width="0.12">Net Benefit</text>
<line x1="2178.9" y1="1781.3" x2="2874.2" y2="1781.3" stroke="#4d4d4d" stroke-width="1.6"/>
<line x1="2178.9" y1="1781.3" x2="2178.9" y2="1789.9" stroke="#4d4d4d" stroke-width="1.6"/>
<text x="2178.9" y="1812.5" font-size="14.6" text-anchor="middle" stroke="#000" stroke-width="0.12">0.0</text>
<line x1="2317.96" y1="1781.3" x2="2317.96" y2="1789.9" stroke="#4d4d4d" stroke-width="1.6"/>
<text x="2317.96" y="1812.5" font-size="14.6" text-anchor="middle" stroke="#000" stroke-width="0.12">0.2</text>
<line x1="2457.02" y1="1781.3" x2="2457.02" y2="1789.9" stroke="#4d4d4d" stroke-width="1.6"/>
<text x="2457.02" y="1812.5" font-size="14.6" text-anchor="middle" stroke="#000" stroke-width="0.12">0.4</text>
<line x1="2596.08" y1="1781.3" x2="2596.08" y2="1789.9" stroke="#4d4d4d" stroke-width="1.6"/>
<text x="2596.08" y="1812.5" font-size="14.6" text-anchor="middle" stroke="#000" stroke-width="0.12">0.6</text>
<line x1="2735.14" y1="1781.3" x2="2735.14" y2="1789.9" stroke="#4d4d4d" stroke-width="1.6"/>
<text x="2735.14" y="1812.5" font-size="14.6" text-anchor="middle" stroke="#000" stroke-width="0.12">0.8</text>
<line x1="2874.2" y1="1781.3" x2="2874.2" y2="1789.9" stroke="#4d4d4d" stroke-width="1.6"/>
<text x="2874.2" y="1812.5" font-size="14.6" text-anchor="middle" stroke="#000" stroke-width="0.12">1.0</text>
<text x="2526.5" y="1833" font-size="14" text-anchor="middle" stroke="#000" stroke-width="0.12">Threshold probability</text>
<line x1="2185.9" y1="1850.3" x2="2867.1" y2="1850.3" stroke="#4d4d4d" stroke-width="1.6"/>
<line x1="2185.9" y1="1850.3" x2="2185.9" y2="1858.9" stroke="#4d4d4d" stroke-width="1.6"/>
<text x="2185.9" y="1880.8" font-size="14.6" text-anchor="middle" stroke="#000" stroke-width="0.12">1:100</text>
<line x1="2317.96" y1="1850.3" x2="2317.96" y2="1858.9" stroke="#4d4d4d" stroke-width="1.6"/>
<text x="2317.96" y="1880.8" font-size="14.6" text-anchor="middle" stroke="#000" stroke-width="0.12">1:4</text>
<line x1="2457.02" y1="1850.3" x2="2457.02" y2="1858.9" stroke="#4d4d4d" stroke-width="1.6"/>
<text x="2457.02" y="1880.8" font-size="14.6" text-anchor="middle" stroke="#000" stroke-width="0.12">2:3</text>
<line x1="2596.08" y1="1850.3" x2="2596.08" y2="1858.9" stroke="#4d4d4d" stroke-width="1.6"/>
<text x="2596.08" y="1880.8" font-size="14.6" text-anchor="middle" stroke="#000" stroke-width="0.12">3:2</text>
<line x1="2735.14" y1="1850.3" x2="2735.14" y2="1858.9" stroke="#4d4d4d" stroke-width="1.6"/>
<text x="2735.14" y="1880.8" font-size="14.6" text-anchor="middle" stroke="#000" stroke-width="0.12">4:1</text>
<line x1="2867.1" y1="1850.3" x2="2867.1" y2="1858.9" stroke="#4d4d4d" stroke-width="1.6"/>
<text x="2867.1" y="1880.8" font-size="14.6" text-anchor="middle" stroke="#000" stroke-width="0.12">100:1</text>
<text x="2526.4" y="1899.9" font-size="14.2" text-anchor="middle" stroke="#000" stroke-width="0.12">Cost:Benefit Ratio</text>
<rect x="2805.6" y="1108.2" width="96" height="68" fill="#fff" stroke="#4d4d4d" stroke-width="1.5"/>
<line x1="2818.2" y1="1125.2" x2="2845" y2="1125.2" stroke="#ee1111" stroke-width="2.4"/>
<text x="2857.3" y="1130.8" font-size="14" stroke="#000" stroke-width="0.12">Model</text>
<line x1="2818.2" y1="1142.2" x2="2845" y2="1142.2" stroke="#c8c8c8" stroke-width="1.6"/>
<text x="2857.3" y="1147.8" font-size="14" stroke="#000" stroke-width="0.12">All</text>
<line x1="2818.2" y1="1159.2" x2="2845" y2="1159.2" stroke="#4d4d4d" stroke-width="1.4"/>
<text x="2857.3" y="1164.8" font-size="14" stroke="#000" stroke-width="0.12">None</text>
</g>
</svg>
</body></html>
